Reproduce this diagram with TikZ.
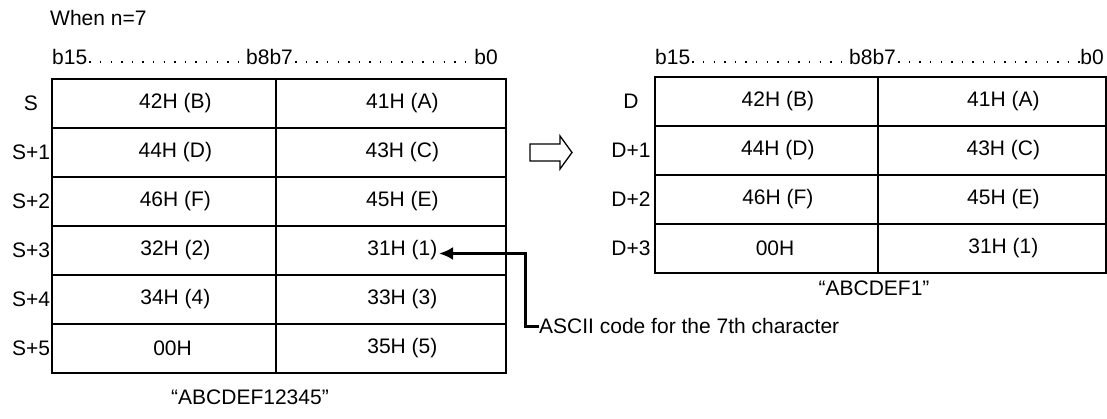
\documentclass[tikz,border=0pt]{standalone}
\usepackage{fontspec}
\setmainfont{Liberation Sans}
\usetikzlibrary{positioning}
\usetikzlibrary{arrows.meta}

\begin{document}
\begin{tikzpicture}[
    x=1pt, y=-1pt,
    font=\fontsize{21}{25}\selectfont,
    cell/.style={
        draw,
        line width=1.8pt,
        inner sep=0pt,
        outer sep=0pt,
        minimum height=49pt,
    },
    hibyte/.style={cell, minimum width=224pt},
    lobyte/.style={cell, minimum width=230pt},
    hibyteD/.style={cell, minimum width=223pt},
    lobyteD/.style={cell, minimum width=228pt},
    rowname/.style={inner sep=0pt},
    bitname/.style={inner sep=0pt, anchor=base west},
    bitdots/.style={line width=1.4pt, dash pattern=on 1.4pt off 9.2pt},
    remark/.style={inner sep=0pt},
    pointer/.style={draw, line width=3pt, -{Latex[length=14pt,width=13pt]}},
    hollow/.style={draw, line width=1.3pt}
]
\useasboundingbox (0,0) rectangle (1107,419);

\node[anchor=base west, inner sep=0pt] (cond) at (50,26) {When n=7};

% source words
\node[hibyte, anchor=north west] (s0h) at (52,79) {\hspace{8mm}42H (B)};
\node[lobyte, right=0pt of s0h] (s0l) {\hspace{8mm}41H (A)};
\node[hibyte, below=0pt of s0h] (s1h) {\hspace{8mm}44H (D)};
\node[lobyte, right=0pt of s1h] (s1l) {\hspace{8mm}43H (C)};
\node[hibyte, below=0pt of s1h] (s2h) {\hspace{8mm}46H (F)};
\node[lobyte, right=0pt of s2h] (s2l) {\hspace{8mm}45H (E)};
\node[hibyte, below=0pt of s2h] (s3h) {\hspace{8mm}32H (2)};
\node[lobyte, right=0pt of s3h] (s3l) {\hspace{8mm}31H (1)};
\node[hibyte, below=0pt of s3h] (s4h) {\hspace{8mm}34H (4)};
\node[lobyte, right=0pt of s4h] (s4l) {\hspace{8mm}33H (3)};
\node[hibyte, below=0pt of s4h] (s5h) {\hspace{6mm}00H};
\node[lobyte, right=0pt of s5h] (s5l) {\hspace{8mm}35H (5)};

\node[rowname] (s0) at ([xshift=-21pt]s0h.west) {S};
\node[rowname] (s1) at ([xshift=-21pt]s1h.west) {S+1};
\node[rowname] (s2) at ([xshift=-21pt]s2h.west) {S+2};
\node[rowname] (s3) at ([xshift=-21pt]s3h.west) {S+3};
\node[rowname] (s4) at ([xshift=-21pt]s4h.west) {S+4};
\node[rowname] (s5) at ([xshift=-21pt]s5h.west) {S+5};

\node[bitname] (sb15) at (52,65) {b15};
\node[bitname] (sb8) at (246,65) {b8b7};
\node[bitname, anchor=base east] (sb0) at (498,65) {b0};
\draw[bitdots] ([xshift=2pt,yshift=3pt]sb15.base east) -- ([yshift=3pt]sb8.base west);
\draw[bitdots] ([xshift=2pt,yshift=3pt]sb8.base east) -- ([yshift=3pt]sb0.base west);

\node[remark] (scap) at (250,397) {“ABCDEF12345”};

% transfer
\draw[hollow] (530,144) -- (560,144) -- (560,136) -- (572,152.5)
    -- (560,169) -- (560,161) -- (530,161) -- cycle;

% destination words
\node[hibyteD, anchor=north west] (d0h) at (655,77) {\hspace{8mm}42H (B)};
\node[lobyteD, right=0pt of d0h] (d0l) {\hspace{8mm}41H (A)};
\node[hibyteD, below=0pt of d0h] (d1h) {\hspace{8mm}44H (D)};
\node[lobyteD, right=0pt of d1h] (d1l) {\hspace{8mm}43H (C)};
\node[hibyteD, below=0pt of d1h] (d2h) {\hspace{8mm}46H (F)};
\node[lobyteD, right=0pt of d2h] (d2l) {\hspace{8mm}45H (E)};
\node[hibyteD, below=0pt of d2h] (d3h) {\hspace{6mm}00H};
\node[lobyteD, right=0pt of d3h] (d3l) {\hspace{8mm}31H (1)};

\node[rowname] (d0) at ([xshift=-24pt]d0h.west) {D};
\node[rowname] (d1) at ([xshift=-24pt]d1h.west) {D+1};
\node[rowname] (d2) at ([xshift=-24pt]d2h.west) {D+2};
\node[rowname] (d3) at ([xshift=-24pt]d3h.west) {D+3};

\node[bitname] (db15) at (655,65) {b15};
\node[bitname] (db8) at (849,65) {b8b7};
\node[bitname, anchor=base east] (db0) at (1104,65) {b0};
\draw[bitdots] ([xshift=2pt,yshift=3pt]db15.base east) -- ([yshift=3pt]db8.base west);
\draw[bitdots] ([xshift=2pt,yshift=3pt]db8.base east) -- ([yshift=3pt]db0.base west);

\node[remark] (dcap) at (874,288) {“ABCDEF1”};

% pointer to the 7th character
\node[remark, anchor=west] (note) at (539,326) {ASCII code for the 7th character};
\coordinate (s3tip) at ([xshift=48pt,yshift=-3pt]s3l.center);
\draw[pointer] (note.west) -- ++(-14,0) |- (s3tip);

\end{tikzpicture}
\end{document}
